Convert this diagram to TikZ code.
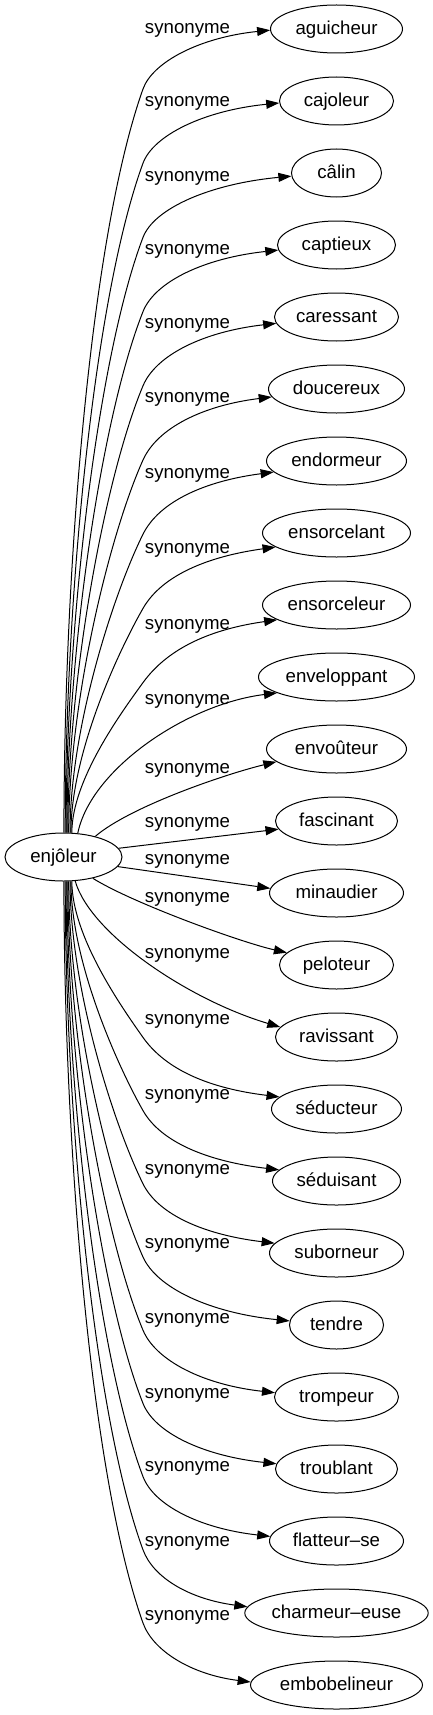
\documentclass[tikz,border=0pt]{standalone}
\usepackage{fontspec}
\setmainfont{Liberation Sans}
\usetikzlibrary{shapes.geometric,arrows.meta}
\begin{document}
\begin{tikzpicture}[x=1pt,y=-1pt,
  every node/.style={font=\fontsize{18.67}{22}\selectfont},
  tnode/.style={draw, ellipse, line width=1pt, inner sep=0pt, minimum height=48pt, text height=14pt, text depth=3.4pt},
  lab/.style={inner sep=0pt, anchor=base},
  syn/.style={draw, line width=1pt, -{Triangle[length=13pt,width=9pt]}}]
\useasboundingbox (0,0) rectangle (432,1715);
\node[tnode, minimum width=117pt] (src) at (63.5,857) {enjôleur};
\foreach \i/\txt/\rx in {0/aguicheur/66, 1/cajoleur/57, 2/câlin/45, 3/captieux/59, 4/caressant/62, 5/doucereux/68, 6/endormeur/70, 7/ensorcelant/74, 8/ensorceleur/74, 9/enveloppant/78, 10/envoûteur/70, 11/fascinant/61, 12/minaudier/67, 13/peloteur/57, 14/ravissant/61, 15/séducteur/65, 16/séduisant/64, 17/suborneur/67, 18/tendre/47, 19/trompeur/62, 20/troublant/61, 21/flatteur–se/67, 22/charmeur–euse/90, 23/embobelineur/86}{
  \pgfmathsetmacro\w{2*\rx}
  \pgfmathsetmacro\yt{29+72*\i}
  \node[tnode, minimum width=\w pt] (t\i) at (336.5,\yt) {\txt};
}
\foreach \i/\ly in {0/31.5, 1/104.5, 2/179.5, 3/252.5, 4/326.5, 5/400.5, 6/476.5, 7/551.5, 8/627.5, 9/702.5, 10/771.5, 11/825.5, 12/862.5, 13/900.5, 14/956.5, 15/1022.5, 16/1097.5, 17/1172.5, 18/1246.5, 19/1321.5, 20/1396.5, 21/1469.5, 22/1544.5, 23/1618.5}{
  \node[lab] (l\i) at (187.5,{\ly+2}) {synonyme};
}
% upper far edges
\foreach \i/\rx/\ea in {0/66/181, 1/57/182, 2/45/184, 3/59/185, 4/62/186, 5/68/187, 6/70/190, 7/74/193, 8/74/194}{
  \pgfmathsetmacro\yt{29+72*\i}
  \pgfmathsetmacro\sa{89-2.2*\i}
  \pgfmathsetmacro\px{64+0.95*\i}
  \pgfmathsetmacro\ky{\yt+60+2.2*\i}
  \pgfmathsetmacro\h{833-\ky}
  \pgfmathsetmacro\s{0.25+(143-\px)/\h}
  \pgfmathsetmacro\La{0.35*\h}
  \pgfmathsetmacro\Lb{0.2*\h}
  \pgfmathsetmacro\sx{\s*\Lb}
  \pgfmathsetmacro\m{0.45*(\ky-\yt)}
  \pgfmathsetmacro\mx{\s*\m}
  \pgfmathsetmacro\c{0.55*(193.5-\rx)}
  \pgfmathsetmacro\e{0.12*(\ky-\yt)}
  \draw[syn] (src.\sa) .. controls +(0,-\La) and +(-\sx,\Lb) .. (143,\ky) .. controls +(\mx,-\m) and +(-\c,\e) .. (t\i.\ea);
}
% lower far edges
\foreach \i/\rx/\ea in {15/65/168, 16/64/169, 17/67/171, 18/47/175, 19/62/176, 20/61/175, 21/67/176.5, 22/90/176, 23/86/178}{
  \pgfmathsetmacro\yt{29+72*\i}
  \pgfmathsetmacro\j{23-\i}
  \pgfmathsetmacro\sa{-(89-2.2*\j)}
  \pgfmathsetmacro\px{64+0.95*\j}
  \pgfmathsetmacro\ky{\yt-62-1.2*\j}
  \pgfmathsetmacro\h{\ky-881}
  \pgfmathsetmacro\s{0.25+(143-\px)/\h}
  \pgfmathsetmacro\La{0.35*\h}
  \pgfmathsetmacro\Lb{0.2*\h}
  \pgfmathsetmacro\sx{\s*\Lb}
  \pgfmathsetmacro\m{0.45*(\yt-\ky)}
  \pgfmathsetmacro\mx{\s*\m}
  \pgfmathsetmacro\c{0.55*(193.5-\rx)}
  \pgfmathsetmacro\e{0.12*(\yt-\ky)}
  \draw[syn] (src.\sa) .. controls +(0,\La) and +(-\sx,-\Lb) .. (143,\ky) .. controls +(\mx,\m) and +(-\c,-\e) .. (t\i.\ea);
}
% near edges
\draw[syn] (src.59) .. controls +(13,-64) and +(-90,11) .. (t9.195);
\draw[syn] (src.33) .. controls +(35,-30) and +(-50,12) .. (t10.192);
\draw[syn] (src.9) -- (t11.188);
\draw[syn] (src.-10) -- (t12.176);
\draw[syn] (src.-36) .. controls +(40,25) and +(-45,-10) .. (t13.166);
\draw[syn] (src.-64) .. controls +(15,53) and +(-91,-27) .. (t14.170);
\end{tikzpicture}
\end{document}
